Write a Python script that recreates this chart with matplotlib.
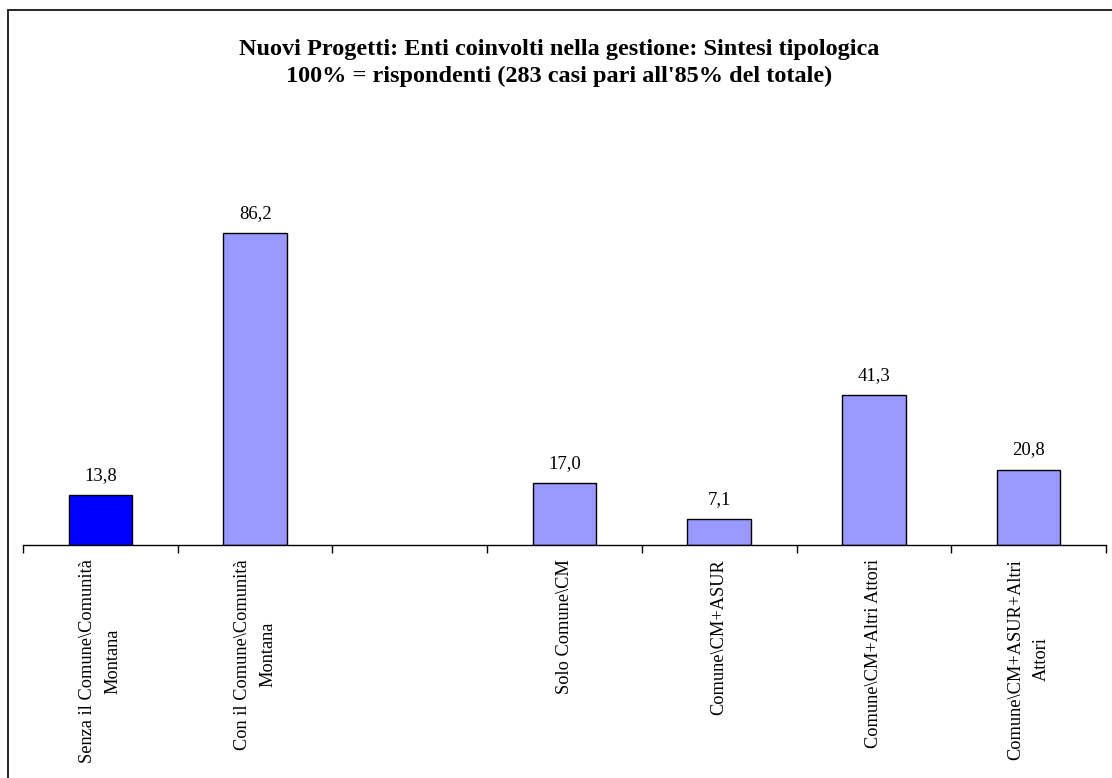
import matplotlib.pyplot as plt
from matplotlib.patches import Rectangle

# dati
categorie = [
    "Senza il Comune\\Comunità\nMontana",
    "Con il Comune\\Comunità\nMontana",
    "",
    "Solo Comune\\CM",
    "Comune\\CM+ASUR",
    "Comune\\CM+Altri Attori",
    "Comune\\CM+ASUR+Altri\nAttori",
]
valori = [13.8, 86.2, None, 17.0, 7.1, 41.3, 20.8]
colori = ["#0000FF", "#9999FF", "#9999FF", "#9999FF", "#9999FF", "#9999FF", "#9999FF"]

titolo = ("Nuovi Progetti: Enti coinvolti nella gestione: Sintesi tipologica\n"
          "100% = rispondenti (283 casi pari all'85% del totale)")

plt.rcParams["font.family"] = ["Liberation Serif", "DejaVu Serif"]

W, H = 1112, 778
fig = plt.figure(figsize=(W / 100, H / 100), dpi=100)
fig.patch.set_facecolor("white")

# cornice del grafico (stile Excel)
fig.patches.append(Rectangle((8 / W, -0.05), 1.2, 1 - 10 / H + 0.05,
                             transform=fig.transFigure, fill=False,
                             edgecolor="black", linewidth=1.2))

x0, x1 = 23, 1106
y_base, y_top = 545, 183
ax = fig.add_axes([x0 / W, (H - y_base) / H, (x1 - x0) / W, (y_base - y_top) / H])

n = len(categorie)
xs = list(range(n))
for i, v in enumerate(valori):
    if v is None:
        continue
    ax.bar(xs[i], v, width=0.41, color=colori[i], edgecolor="black", linewidth=1)
    ax.annotate(f"{v:.1f}".replace(".", ","), (xs[i], v), xytext=(0, 8),
                textcoords="offset points", ha="center", va="bottom", fontsize=13.5)

ax.set_xlim(-0.5, n - 0.5)
ax.set_ylim(0, 100)

for s in ["top", "right", "left"]:
    ax.spines[s].set_visible(False)
ax.spines["bottom"].set_linewidth(1)
ax.set_yticks([])

# tacche ai confini delle categorie, etichette al centro
ax.set_xticks([i - 0.5 for i in range(n + 1)])
ax.set_xticklabels([])
ax.tick_params(axis="x", which="major", direction="out", length=6, width=1)
ax.set_xticks(xs, minor=True)
ax.set_xticklabels(categorie, minor=True, rotation=90, fontsize=13.2,
                   ha="center", va="top", multialignment="center", linespacing=1.6)
ax.tick_params(axis="x", which="minor", length=0, pad=10)

fig.text(0.503, 1 - 63 / H, titolo, ha="center", va="center",
         fontsize=17.5, fontweight="bold", linespacing=1.35)

fig.savefig("out.png", dpi=100, facecolor="white")
